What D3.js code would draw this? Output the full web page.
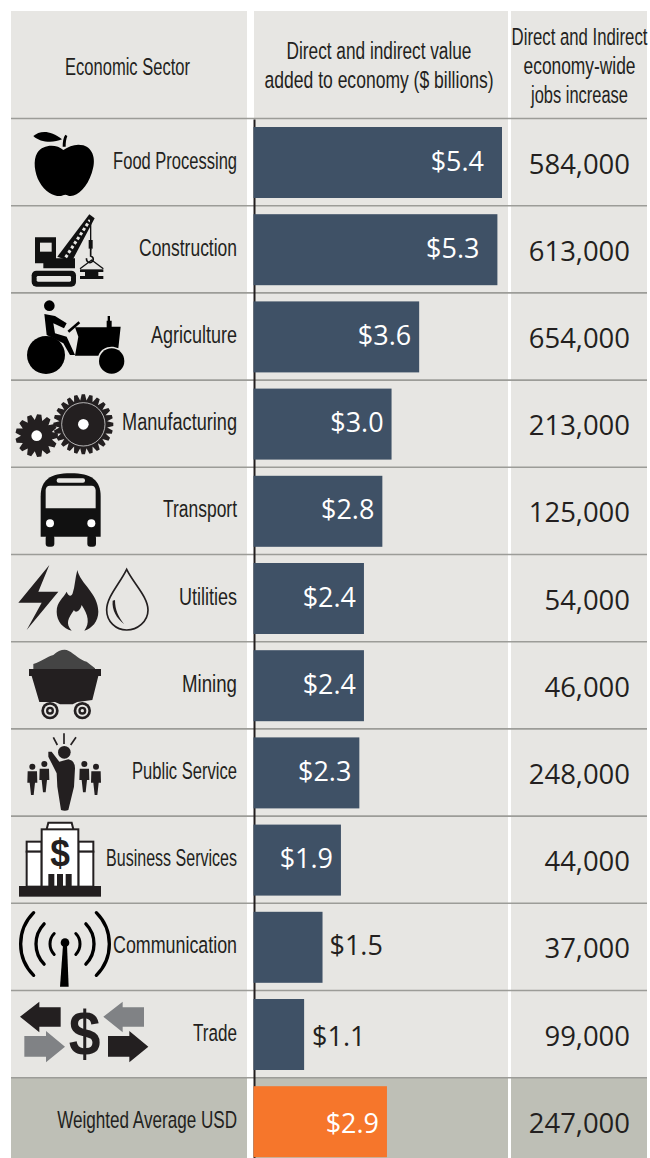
<!DOCTYPE html>
<html><head><meta charset="utf-8">
<script src="https://cdn.jsdelivr.net/npm/d3@7"></script>
<style>html,body{margin:0;padding:0;background:#fff;overflow:hidden}svg{display:block}</style>
</head><body><div id="chart"></div>
<script>
const categories=["Food Processing","Construction","Agriculture","Manufacturing","Transport","Utilities","Mining","Public Service","Business Services","Communication","Trade","Weighted Average USD"];
const values=[5.4,5.3,3.6,3.0,2.8,2.4,2.4,2.3,1.9,1.5,1.1,2.9];
const jobs=[584000,613000,654000,213000,125000,54000,46000,248000,44000,37000,99000,247000];
const headerSector=["Economic Sector"];
const headerValue=["Direct and indirect value","added to economy ($ billions)"];
const headerJobs=["Direct and Indirect","economy-wide","jobs increase"];

const W=650,H=1158,INK="#231F20",PANEL="#E7E6E3",FOOT="#BEBFB6",BAR="#3F5166",ORANGE="#F6762B",RULE="#9C9C98";
const NARROW="'Liberation Sans Narrow','Liberation Sans',sans-serif",WIDE="'Open Sans',sans-serif";
// set widths of the condensed captions, as measured in the picture
const fitSector=[125],fitValue=[185,229],fitJobs=[136,112,97];
const fitRows=[124,98,86,115,74,58,55,105,131,124,44,180];

const svg=d3.select("#chart").append("svg").attr("width",W).attr("height",H).attr("viewBox",`0 0 ${W} ${H}`);
const rows=categories.map((c,i)=>({c,v:values[i],j:jobs[i],i,total:i===categories.length-1}));
const y=d3.scaleBand().domain(categories).range([118.5,118.5+87.2*categories.length]);
const x=d3.scaleLinear().domain([0,5.4]).range([253.5,502]);
const cols=[[11,247],[254,508],[511,647]];

// column panels and footer band
cols.forEach(([a,b])=>{
  svg.append("rect").attr("x",a).attr("y",11).attr("width",b-a).attr("height",H-11).attr("fill",PANEL);
  svg.append("rect").attr("x",a).attr("y",y(categories[11])).attr("width",b-a).attr("height",H-y(categories[11])).attr("fill",FOOT);
});
// rules
svg.selectAll("line.rule").data(categories).join("line").attr("class","rule")
  .attr("x1",11).attr("x2",647).attr("y1",d=>y(d)).attr("y2",d=>y(d)).attr("stroke",RULE).attr("stroke-width",1.6);
// axis
const ax=svg.append("g").attr("transform","translate(254,0)").call(d3.axisLeft(d3.scaleLinear().domain([0,1]).range([119,H])).tickValues([]).tickSizeOuter(0));
ax.select(".domain").attr("stroke",INK).attr("stroke-width",2);

// text helpers
function label(g,t,px,py,anchor,size,sx,fill,fam){
  return g.append("text").attr("transform",`translate(${px},${py}) scale(${sx},1)`).attr("text-anchor",anchor)
    .attr("font-family",fam).attr("font-size",size).attr("fill",fill).text(t);
}
function fitted(t,px,py,anchor,wanted){
  const n=label(svg,t,px,py,anchor,LSZ,1,INK,NARROW);
  const sx=wanted/n.node().getComputedTextLength();
  n.attr("transform",`translate(${px},${py}) scale(${sx},1)`);
}
const LSZ=24.5;
headerSector.forEach((t,i)=>fitted(t,127.5,75,"middle",fitSector[i]));
headerValue.forEach((t,i)=>fitted(t,379,59+i*29,"middle",fitValue[i]));
headerJobs.forEach((t,i)=>fitted(t,579.5,45+i*29,"middle",fitJobs[i]));

// bars
svg.selectAll("rect.bar").data(rows).join("rect").attr("class","bar")
  .attr("x",x(0)).attr("y",d=>y(d.c)+8.5).attr("width",d=>x(d.v)-x(0)).attr("height",71)
  .attr("fill",d=>d.total?ORANGE:BAR);

rows.forEach(d=>{
  const base=y(d.c);
  fitted(d.c,237,base+50,"end",fitRows[d.i]);
  const inside=d.v>=1.9, inset=d.v>5?18:8;
  const tx=inside?x(d.v)-inset:x(d.v)+(d.i===10?8:7);
  label(svg,"$"+d.v.toFixed(1),tx,base+52+(d.i>=10?3:0),inside?"end":"start",27.5,0.98,inside?"#FFFFFF":INK,WIDE);
  label(svg,d3.format(",")(d.j),630,base+55,"end",28,0.98,INK,WIDE);
});

// pictograms, drawn in a 3x working grid
function gearPath(cx,cy,ro,ri,n){
  let s="";
  for(let k=0;k<n;k++){
    const a=k/n*2*Math.PI,w=Math.PI/n;
    const pts=[[ri,a-w],[ro,a-w*0.42],[ro,a+w*0.42],[ri,a+w]];
    pts.forEach(([r,t],m)=>{s+=(k===0&&m===0?"M":"L")+(cx+r*Math.cos(t)).toFixed(1)+" "+(cy+r*Math.sin(t)).toFixed(1)});
  }
  return s+"Z";
}
function commArcs(){
  const cx=195,cy=912;let s="";
  [[45,44,9],[87,44,10],[133,45,10]].forEach(([r,deg,w])=>{
    const t=deg*Math.PI/180;
    [-1,1].forEach(sd=>{
      const ex=cx+sd*r*Math.cos(t),dy=r*Math.sin(t);
      s+=`<path d="M${ex} ${cy-dy}A${r} ${r} 0 0 ${sd>0?1:0} ${ex} ${cy+dy}" fill="none" stroke="#000" stroke-width="${w}" stroke-linecap="round"/>`;
    });
  });
  return s;
}
function person(px,py){
  return `<circle cx="${px}" cy="${py}" r="9" fill="${INK}"/><path fill="${INK}" d="M${px-14} ${py+14}H${px+14}L${px+15} ${py+48}H${px+8}L${px+4} ${py+85}H${px-4}L${px-8} ${py+48}H${px-15}Z"/>`;
}
const icons1=`
<path fill="#000" d="M190 450C170 432 130 432 112 458C98 480 104 520 118 545C135 578 165 590 182 588C188 587 190 584 196 584C202 584 205 588 212 588C235 588 262 560 275 520C290 480 280 445 250 436C228 430 208 438 190 450Z"/>
<path fill="#000" d="M100 408C118 392 150 388 186 418C160 430 120 428 100 408Z"/>
<path fill="#000" d="M188 440C188 425 190 412 196 404L202 408C198 418 197 428 197 440Z"/>
<path fill="#111" d="M105 712H168V775H225V805H130V790H105Z"/>
<rect x="120" y="728" width="35" height="27" fill="${PANEL}"/>
<rect x="95" y="812" width="133" height="48" rx="14" fill="#111"/>
<rect x="110" y="828" width="103" height="17" rx="4" fill="${PANEL}"/>
<path fill="#111" d="M172 770L215 785L284 655L268 643Z"/>
<line x1="197" y1="772" x2="270" y2="660" stroke="${PANEL}" stroke-width="9" stroke-dasharray="9 7"/>
<line x1="272" y1="655" x2="272" y2="750" stroke="#111" stroke-width="4"/>
<rect x="266" y="720" width="12" height="26" fill="#111"/>
<path d="M272 746V768A10 10 0 1 1 260 775" fill="none" stroke="#111" stroke-width="5"/>
<path d="M240 806L275 780L310 806" fill="none" stroke="#111" stroke-width="4"/>
<rect x="240" y="808" width="70" height="8" fill="#111"/><rect x="255" y="816" width="40" height="12" fill="#111"/><rect x="240" y="828" width="70" height="9" fill="#111"/>`;
const icons2=`
<circle cx="148" cy="47" r="16" fill="#000"/><circle cx="138" cy="195" r="57" fill="#000"/><circle cx="335" cy="213" r="38" fill="#000"/>
<path fill="#000" d="M133 72L165 78L200 100L192 115L160 100L165 130L200 140L225 195L210 195L190 160L140 135Z"/>
<line x1="205" y1="125" x2="238" y2="97" stroke="#000" stroke-width="8"/>
<path fill="#000" d="M225 112H320V92H323V78H330V92H335V110H362L355 175C335 165 305 170 295 197H225L235 140Z"/>
<path fill="${INK}" d="${gearPath(250,403,90,72,24)}"/><circle cx="250" cy="403" r="65" fill="none" stroke="#fff" stroke-width="2"/><circle cx="250" cy="403" r="16" fill="#fff"/>
<path fill="${INK}" d="${gearPath(110,437,64,47,13)}"/><circle cx="110" cy="437" r="16" fill="#fff"/>
<path fill="#111" d="M122 740V620C122 570 150 550 212 550C274 550 302 570 302 620V740Z"/>
<path fill="${PANEL}" d="M150 587H275Q285 587 287 600V655H137V600Q138 587 150 587Z"/>
<rect x="170" y="565" width="85" height="13" rx="6" fill="${PANEL}"/>
<circle cx="150" cy="700" r="12" fill="#fff"/><circle cx="274" cy="700" r="12" fill="#fff"/>
<rect x="137" y="735" width="26" height="35" rx="9" fill="#111"/><rect x="262" y="735" width="26" height="35" rx="9" fill="#111"/>
<polygon fill="${INK}" points="148,825 55,938 125,938 80,1020 175,905 115,905"/>
<path fill="${INK}" d="M232 840C240 880 295 910 295 965C295 995 275 1015 253 1022C270 1000 265 975 245 945C240 965 225 970 222 960C205 985 195 1000 215 1022C190 1015 170 995 170 965C170 935 190 925 200 905C205 920 215 920 218 910C225 890 225 865 232 840Z"/>
<path fill="none" stroke="${INK}" stroke-width="5" d="M380 838C360 880 320 920 320 960C320 995 348 1020 380 1020C412 1020 444 995 444 960C444 920 400 880 380 838Z"/>
<path fill="${INK}" d="M338 932C335 960 350 985 372 1002C355 980 345 960 345 930Z"/>`;
const wheel=c=>`<circle cx="${c}" cy="212" r="26" fill="${INK}"/><circle cx="${c}" cy="212" r="18" fill="${PANEL}"/><circle cx="${c}" cy="212" r="12" fill="${INK}"/><circle cx="${c}" cy="212" r="5" fill="${PANEL}"/>`;
const icons3=`
<path fill="#444" d="M100 72C125 65 140 50 160 45C175 30 195 25 205 32C225 42 240 60 260 65L285 85V90H100Z"/>
<rect x="87" y="87" width="216" height="21" fill="${INK}"/>
<path fill="${INK}" d="M95 108H295L277 180L232 186L218 193H180L165 186L118 186Z"/>
${wheel(150)}${wheel(247)}
<circle cx="193" cy="337" r="19" fill="${INK}"/>
<path fill="${INK}" d="M145 335L155 335L178 365L205 358Q225 362 225 385L222 440L205 510Q195 515 183 510L172 440L170 400L145 350Z"/>
<g stroke="${INK}" stroke-width="5"><line x1="192" y1="280" x2="192" y2="312"/><line x1="160" y1="292" x2="172" y2="315"/><line x1="228" y1="292" x2="212" y2="315"/></g>
${person(97,380)}${person(133,372)}${person(253,372)}${person(288,380)}
<g fill="#fff" stroke="${INK}" stroke-width="6">
<rect x="80" y="605" width="45" height="30"/><rect x="235" y="605" width="45" height="30"/>
<rect x="80" y="635" width="45" height="105"/><rect x="235" y="635" width="45" height="105"/>
<path d="M140 568L145 548H215L220 568"/><rect x="125" y="568" width="110" height="172"/></g>
<rect x="57" y="738" width="246" height="32" fill="${INK}"/>
<rect x="145" y="702" width="18" height="38" fill="${INK}"/><rect x="171" y="702" width="18" height="38" fill="${INK}"/><rect x="197" y="702" width="18" height="38" fill="${INK}"/>
<text transform="translate(180,678) scale(.9,1)" text-anchor="middle" font-family="'Liberation Sans',sans-serif" font-weight="700" font-size="118" fill="${INK}">$</text>
${commArcs()}
<polygon fill="#000" points="189,915 201,915 206,1040 180,1040"/><circle cx="195" cy="908" r="13" fill="#000"/>`;
const icons4=`
<polygon fill="${INK}" points="60,110 118,65 118,82 182,82 182,140 118,140 118,157"/>
<polygon fill="#808285" points="310,110 368,65 368,82 432,82 432,140 368,140 368,157"/>
<polygon fill="#808285" points="73,168 138,168 138,153 195,200 138,247 138,230 73,230"/>
<polygon fill="${INK}" points="324,168 388,168 388,153 445,200 388,247 388,230 324,230"/>
<text transform="translate(254,226) scale(.9,1)" text-anchor="middle" font-family="'Liberation Sans',sans-serif" font-weight="700" font-size="190" fill="${INK}">$</text>`;
[[0,icons1],[290,icons2],[640,icons3],[980,icons4]].forEach(([o,m])=>{
  svg.append("g").attr("transform",`translate(0,${o}) scale(${1/3})`).html(m);
});
</script></body></html>
